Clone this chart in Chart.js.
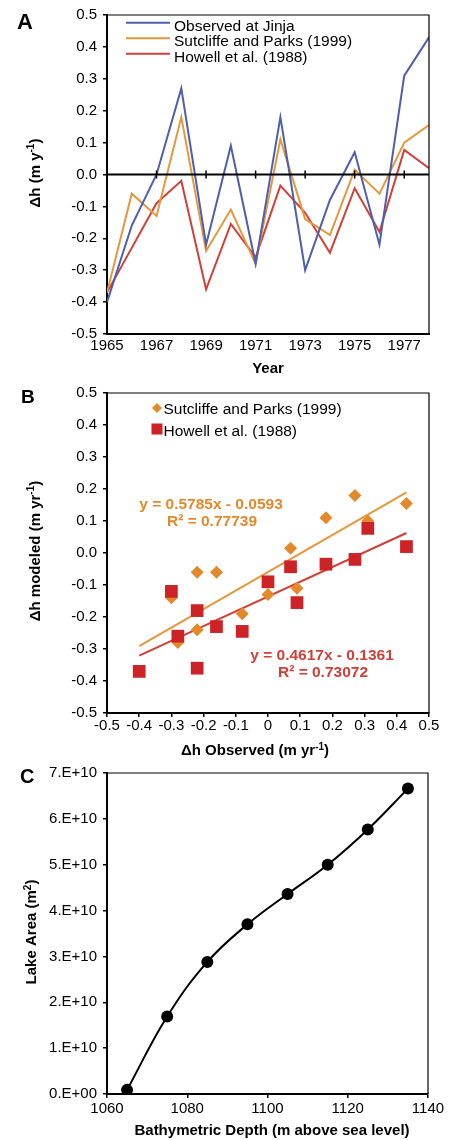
<!DOCTYPE html>
<html>
<head>
<meta charset="utf-8">
<title>Lake Victoria water balance</title>
<script src="https://cdn.jsdelivr.net/npm/chart.js@4.4.1/dist/chart.umd.min.js"></script>
<style>
  html, body { margin: 0; padding: 0; background: #fff; }
  body { position: relative; width: 454px; height: 1140px; overflow: hidden; }
  canvas { position: absolute; left: 0; }
</style>
</head>
<body>
<canvas id="chartA" width="454" height="380" style="top:0px"></canvas>
<canvas id="chartB" width="454" height="384" style="top:378px"></canvas>
<canvas id="chartC" width="454" height="382" style="top:758px"></canvas>
<script>
// Panel A: yearly lake level change
const years = [1965, 1966, 1967, 1968, 1969, 1970, 1971, 1972, 1973, 1974, 1975, 1976, 1977, 1978];
const yearTicks = [1965, 1967, 1969, 1971, 1973, 1975, 1977];
const observed  = [-0.40, -0.16, 0.00, 0.27, -0.22, 0.09, -0.28, 0.18, -0.30, -0.08, 0.07, -0.22, 0.31, 0.43];
const sutcliffe = [-0.37, -0.06, -0.13, 0.18, -0.24, -0.11, -0.28, 0.11, -0.14, -0.19, 0.015, -0.06, 0.10, 0.155];
const howell    = [-0.37, -0.23, -0.09, -0.02, -0.36, -0.155, -0.26, -0.035, -0.12, -0.245, -0.043, -0.18, 0.077, 0.02];

// Panel B: linear fits shown on the chart (slope, intercept)
const fitSutcliffe = [0.5785, -0.0593];
const fitHowell = [0.4617, -0.1361];
const eqSutcliffe = ['y = 0.5785x - 0.0593', 'R² = 0.77739'];
const eqHowell = ['y = 0.4617x - 0.1361', 'R² = 0.73072'];

// Panel C: hypsometry
const depth = [1065, 1075, 1085, 1095, 1105, 1115, 1125, 1135];
const area = [0.09e10, 1.69e10, 2.88e10, 3.70e10, 4.36e10, 5.00e10, 5.77e10, 6.66e10];

const FONT = '"Liberation Sans", Arial, Helvetica, sans-serif';
const BLUE = '#4d5fae';
const ORANGE = '#e9963a';
const RED = '#d23f36';
const ORANGE_MK = '#e3892b';
const RED_MK = '#cd2327';

Chart.defaults.font.family = FONT;
Chart.defaults.font.size = 15;
Chart.defaults.color = '#000';
Chart.defaults.animation = false;
Chart.defaults.events = [];
Chart.defaults.plugins.legend.display = false;
Chart.defaults.plugins.tooltip.enabled = false;

// title text with superscript parts, centred on (cx, cy)
function drawTitle(ctx, parts, cx, cy, vertical) {
    const big = `bold 15px ${FONT}`, small = `bold 10px ${FONT}`;
    let w = 0;
    for (const [t, sup] of parts) {
        ctx.font = sup ? small : big;
        w += ctx.measureText(t).width;
    }
    ctx.save();
    ctx.translate(cx, cy);
    if (vertical) ctx.rotate(-Math.PI / 2);
    ctx.fillStyle = '#000';
    ctx.textBaseline = 'alphabetic';
    let x = -w / 2;
    for (const [t, sup] of parts) {
        ctx.font = sup ? small : big;
        ctx.fillText(t, x, sup ? -0.5 : 5.4);
        x += ctx.measureText(t).width;
    }
    ctx.restore();
}

// frame top/right, panel letter and axis titles
const panelDecor = {
    id: 'panelDecor',
    afterDraw(chart, args, o) {
        const {ctx, chartArea: a} = chart;
        const dy = o.top;
        ctx.save();
        ctx.strokeStyle = '#000';
        ctx.lineWidth = 1.2;
        ctx.beginPath();
        ctx.moveTo(a.left, a.top);
        ctx.lineTo(a.right, a.top);
        ctx.lineTo(a.right, a.bottom);
        ctx.stroke();
        ctx.fillStyle = '#000';
        ctx.textBaseline = 'alphabetic';
        ctx.font = `bold ${o.letterSize}px ${FONT}`;
        ctx.fillText(o.letter, o.letterX, o.letterY - dy);
        ctx.restore();
        drawTitle(ctx, o.xTitle, o.xTitlePos[0], o.xTitlePos[1] - dy, false);
        drawTitle(ctx, o.yTitle, o.yTitlePos[0], o.yTitlePos[1] - dy, true);
    }
};

function yAxis(min, max, step, fmt, width) {
    return {
        type: 'linear', min: min, max: max,
        afterFit: s => { s.width = width; },
        grid: {drawOnChartArea: false, drawTicks: true, tickLength: 4, color: '#000', lineWidth: 1.5},
        border: {display: true, color: '#000', width: 2},
        ticks: {stepSize: step, padding: 6, color: '#000', font: {size: 15}, callback: fmt}
    };
}

const fmt1 = v => (Math.abs(v) < 1e-9 ? '0.0' : v.toFixed(1));

// ---------- A ----------
const zeroAxis = {
    id: 'zeroAxis',
    afterDatasetsDraw(chart) {
        const {ctx, chartArea: a, scales: {x, y}} = chart;
        const y0 = y.getPixelForValue(0);
        ctx.save();
        ctx.strokeStyle = '#000';
        ctx.lineWidth = 2;
        ctx.beginPath();
        ctx.moveTo(a.left, y0);
        ctx.lineTo(a.right, y0);
        ctx.stroke();
        ctx.lineWidth = 1.5;
        ctx.beginPath();
        yearTicks.slice(1).forEach(v => {
            const px = x.getPixelForValue(v);
            ctx.moveTo(px, y0 - 4);
            ctx.lineTo(px, y0 + 4);
        });
        ctx.stroke();

        // legend inside the plot
        chart.data.datasets.forEach((ds, i) => {
            const ly = 22.7 + i * 15.5;
            ctx.strokeStyle = ds.borderColor;
            ctx.lineWidth = 2;
            ctx.beginPath();
            ctx.moveTo(126, ly);
            ctx.lineTo(170, ly);
            ctx.stroke();
            ctx.fillStyle = '#000';
            ctx.font = `15.5px ${FONT}`;
            ctx.textBaseline = 'alphabetic';
            ctx.fillText(ds.label, 174, ly + 8);
        });
        ctx.restore();
    }
};

const lineSet = (label, values, color) => ({
    label: label,
    data: years.map((yr, i) => ({x: yr, y: values[i]})),
    borderColor: color,
    backgroundColor: color,
    borderWidth: 2,
    pointRadius: 0,
    tension: 0
});

new Chart(document.getElementById('chartA'), {
    type: 'line',
    data: {
        datasets: [
            lineSet('Observed at Jinja', observed, BLUE),
            lineSet('Sutcliffe and Parks (1999)', sutcliffe, ORANGE),
            lineSet('Howell et al. (1988)', howell, RED)
        ]
    },
    options: {
        responsive: false,
        layout: {padding: {left: 0, right: 25, top: 13, bottom: 0}},
        scales: {
            x: {
                type: 'linear', min: 1965, max: 1978,
                afterBuildTicks: s => { s.ticks = yearTicks.map(v => ({value: v})); },
                afterFit: s => { s.height = 46; },
                grid: {display: false, drawTicks: false},
                border: {display: true, color: '#000', width: 2},
                ticks: {padding: 3, color: '#000', autoSkip: false, maxRotation: 0, callback: v => String(v)}
            },
            y: yAxis(-0.5, 0.5, 0.1, fmt1, 107)
        },
        plugins: {
            panelDecor: {
                top: 0, letter: 'A', letterSize: 22, letterX: 17, letterY: 29,
                xTitle: [['Year']], xTitlePos: [268, 368],
                yTitle: [['Δh (m y'], ['-1', true], [')']], yTitlePos: [34.5, 173]
            }
        }
    },
    plugins: [zeroAxis, panelDecor]
});

// ---------- B ----------
const trendX = [Math.min(...observed), Math.max(...observed)];

const legendB = {
    id: 'legendB',
    afterDatasetsDraw(chart) {
        const {ctx} = chart;
        const dy = 378;
        ctx.save();
        // diamond
        ctx.fillStyle = ORANGE_MK;
        ctx.beginPath();
        ctx.moveTo(157 - 5, 408 - dy);
        ctx.lineTo(157, 403 - dy);
        ctx.lineTo(157 + 5, 408 - dy);
        ctx.lineTo(157, 413 - dy);
        ctx.closePath();
        ctx.fill();
        // square
        ctx.fillStyle = RED_MK;
        ctx.fillRect(151.5, 423.5 - dy, 11, 11);
        ctx.fillStyle = '#000';
        ctx.font = `15.5px ${FONT}`;
        ctx.textBaseline = 'alphabetic';
        ctx.fillText('Sutcliffe and Parks (1999)', 163.5, 413.5 - dy);
        ctx.fillText('Howell et al. (1988)', 163.5, 435.5 - dy);

        // fit equations
        ctx.font = `bold 15.5px ${FONT}`;
        ctx.textAlign = 'center';
        ctx.fillStyle = ORANGE_MK;
        ctx.fillText(eqSutcliffe[0], 211, 509 - dy);
        ctx.fillText(eqSutcliffe[1], 212, 526 - dy);
        ctx.fillStyle = RED;
        ctx.fillText(eqHowell[0], 322, 660 - dy);
        ctx.fillText(eqHowell[1], 323, 677 - dy);
        ctx.restore();
    }
};

new Chart(document.getElementById('chartB'), {
    type: 'scatter',
    data: {
        datasets: [
            {
                label: 'Howell et al. (1988)',
                data: observed.map((v, i) => ({x: v, y: howell[i]})),
                pointStyle: 'rect', pointRadius: 9, pointBorderWidth: 0,
                backgroundColor: RED_MK, borderColor: RED_MK
            },
            {
                label: 'Sutcliffe and Parks (1999)',
                data: observed.map((v, i) => ({x: v, y: sutcliffe[i]})),
                pointStyle: 'rectRot', pointRadius: 6.5, pointBorderWidth: 0,
                backgroundColor: ORANGE_MK, borderColor: ORANGE_MK
            },
            {
                label: 'fit Sutcliffe',
                data: trendX.map(x => ({x: x, y: fitSutcliffe[0] * x + fitSutcliffe[1]})),
                showLine: true, pointRadius: 0, borderWidth: 2, borderColor: ORANGE
            },
            {
                label: 'fit Howell',
                data: trendX.map(x => ({x: x, y: fitHowell[0] * x + fitHowell[1]})),
                showLine: true, pointRadius: 0, borderWidth: 2, borderColor: RED
            }
        ]
    },
    options: {
        responsive: false,
        layout: {padding: {left: 0, right: 25, top: 12, bottom: 0}},
        scales: {
            x: {
                type: 'linear', min: -0.5, max: 0.5,
                afterFit: s => { s.height = 49; },
                grid: {drawOnChartArea: false, drawTicks: true, tickLength: 4, color: '#000', lineWidth: 1.5},
                border: {display: true, color: '#000', width: 2},
                ticks: {stepSize: 0.1, padding: 0, color: '#000', maxRotation: 0, autoSkip: false,
                        callback: v => (Math.abs(v) < 1e-9 ? '0' : v.toFixed(1))}
            },
            y: yAxis(-0.5, 0.5, 0.1, fmt1, 107)
        },
        plugins: {
            panelDecor: {
                top: 378, letter: 'B', letterSize: 19, letterX: 21, letterY: 403,
                xTitle: [['Δh Observed (m yr'], ['-1', true], [')']], xTitlePos: [255, 750],
                yTitle: [['Δh modeled (m yr'], ['-1', true], [')']], yTitlePos: [34.5, 551]
            }
        }
    },
    plugins: [legendB, panelDecor]
});

// ---------- C ----------
new Chart(document.getElementById('chartC'), {
    type: 'line',
    data: {
        datasets: [{
            label: 'Lake Area',
            data: depth.map((d, i) => ({x: d, y: area[i]})),
            borderColor: '#000', backgroundColor: '#000', borderWidth: 2,
            tension: 0.4,
            pointRadius: 6, pointBorderWidth: 0, pointBackgroundColor: '#000'
        }]
    },
    options: {
        responsive: false,
        layout: {padding: {left: 0, right: 26, top: 12, bottom: 0}},
        scales: {
            x: {
                type: 'linear', min: 1060, max: 1140,
                afterFit: s => { s.height = 46; },
                grid: {drawOnChartArea: false, drawTicks: true, tickLength: 4, color: '#000', lineWidth: 1.5},
                border: {display: true, color: '#000', width: 2},
                ticks: {stepSize: 20, padding: 2, color: '#000', maxRotation: 0, autoSkip: false, callback: v => String(v)}
            },
            y: yAxis(0, 7e10, 1e10, v => (v === 0 ? '0.E+00' : `${Math.round(v / 1e10)}.E+10`), 107)
        },
        plugins: {
            panelDecor: {
                top: 758, letter: 'C', letterSize: 20, letterX: 20, letterY: 783,
                xTitle: [['Bathymetric Depth (m above sea level)']], xTitlePos: [272, 1130],
                yTitle: [['Lake Area (m'], ['2', true], [')']], yTitlePos: [31, 932]
            }
        }
    },
    plugins: [panelDecor]
});
</script>
</body>
</html>
